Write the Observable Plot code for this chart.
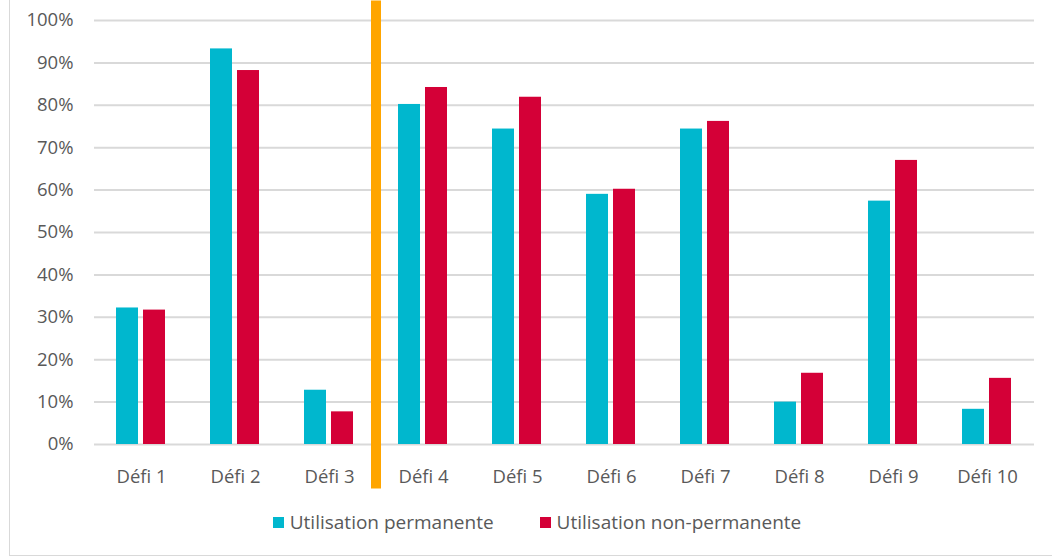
<!DOCTYPE html>
<html>
<head>
<meta charset="utf-8">
<script src="https://cdn.jsdelivr.net/npm/d3@7"></script>
<script src="https://cdn.jsdelivr.net/npm/@observablehq/plot@0.6"></script>
<style>
  body { margin: 0; background: #ffffff; width: 1052px; height: 557px; overflow: hidden; position: relative; font-family: "Open Sans", sans-serif; }
  #chart { position: absolute; left: 0; top: 0; }
  #legend { position: absolute; left: 0; top: 511px; width: 1052px; padding-left: 22px; box-sizing: border-box;
            display: flex; justify-content: center; align-items: center; gap: 46px;
            font-size: 19px; color: #595959; line-height: 22px; }
  #legend .item { display: flex; align-items: center; gap: 6px; white-space: nowrap; }
  #legend .sw { width: 11px; height: 11px; display: inline-block; }
  #frame { position: absolute; left: 9px; top: -2px; width: 1100px; height: 558px; border: 1px solid #d9d9d9; box-sizing: border-box; pointer-events: none; }
</style>
</head>
<body>
<div id="chart"></div>
<div id="legend"></div>
<div id="frame"></div>
<script>
const categories = ["Défi 1", "Défi 2", "Défi 3", "Défi 4", "Défi 5", "Défi 6", "Défi 7", "Défi 8", "Défi 9", "Défi 10"];
const series = ["Utilisation permanente", "Utilisation non-permanente"];
const permanente = [0.322, 0.933, 0.128, 0.802, 0.744, 0.590, 0.744, 0.100, 0.574, 0.083];
const nonPermanente = [0.317, 0.882, 0.077, 0.842, 0.819, 0.602, 0.762, 0.168, 0.670, 0.156];
const yTicks = [0, 0.1, 0.2, 0.3, 0.4, 0.5, 0.6, 0.7, 0.8, 0.9, 1.0];
const colors = ["#00B7CE", "#D40037"];
const separatorBefore = "Défi 4";
const separatorExtent = [-0.105, 1.046];

const rows = categories.flatMap((c, i) => [
  {defi: c, serie: series[0], value: permanente[i]},
  {defi: c, serie: series[1], value: nonPermanente[i]}
]);

const plot = Plot.plot({
  width: 1052,
  height: 500,
  marginLeft: 93,
  marginRight: 17,
  marginTop: 20,
  marginBottom: 56,
  style: {fontFamily: "'Open Sans', sans-serif", fontSize: "18.5px", color: "#595959", background: "transparent", overflow: "visible"},
  facet: {data: rows, x: "defi"},
  fx: {domain: categories, padding: 0, label: null, tickSize: 0, tickPadding: 25, axis: "bottom"},
  x: {domain: series, axis: null, paddingInner: 0.18, paddingOuter: 0.8},
  y: {domain: [0, 1], ticks: yTicks, tickFormat: d3.format(".0%"), tickSize: 0, tickPadding: 21, label: null},
  color: {domain: series, range: colors},
  marks: [
    Plot.ruleY(yTicks, {stroke: "#d9d9d9", strokeWidth: 2}),
    Plot.barY(rows, {x: "serie", y: "value", fill: "serie"})
  ]
});

document.getElementById("chart").appendChild(plot);

// orange separator, positioned with the plot's own scales
const fxS = plot.scale("fx");
const yS = plot.scale("y");
const sx = fxS.apply(separatorBefore);
d3.select(plot).append("line")
  .attr("x1", sx).attr("x2", sx)
  .attr("y1", yS.apply(separatorExtent[1]))
  .attr("y2", yS.apply(separatorExtent[0]))
  .attr("stroke", "#FFA500")
  .attr("stroke-width", 10);

// legend
const legend = d3.select("#legend");
series.forEach((s, i) => {
  const it = legend.append("div").attr("class", "item");
  it.append("span").attr("class", "sw").style("background", colors[i]);
  it.append("span").text(s);
});
</script>
</body>
</html>
